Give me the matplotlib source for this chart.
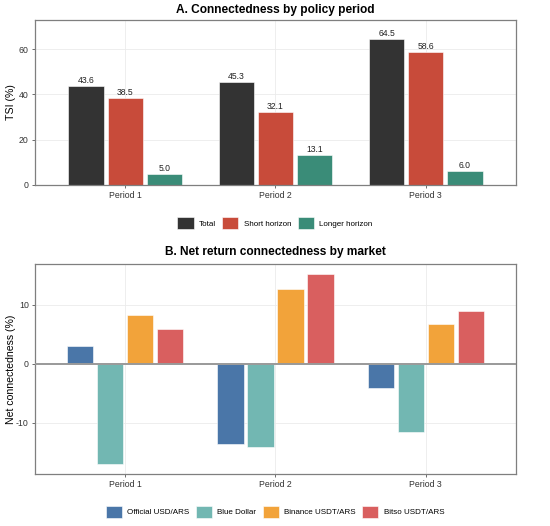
import numpy as np
import matplotlib
matplotlib.use("Agg")
import matplotlib.pyplot as plt
from matplotlib.patches import Patch

periods = ["Period 1", "Period 2", "Period 3"]

# panel A: TSI by horizon
tsi_series = ["Total", "Short horizon", "Longer horizon"]
tsi_total = [43.6, 45.3, 64.5]
tsi_short = [38.5, 32.1, 58.6]
tsi_long = [5.0, 13.1, 6.0]

# panel B: net connectedness by market
markets = ["Official USD/ARS", "Blue Dollar", "Binance USDT/ARS", "Bitso USDT/ARS"]
net_official = [3.0, -13.7, -4.1]
net_blue = [-17.0, -14.1, -11.5]
net_binance = [8.2, 12.6, 6.8]
net_bitso = [5.9, 15.2, 8.9]

colors_a = ["#333333", "#C84B3A", "#3A8C78"]
colors_b = ["#4A76A8", "#72B7B2", "#F2A33A", "#D95F5F"]

plt.rcParams["font.family"] = ["Liberation Sans", "DejaVu Sans"]
plt.rcParams["axes.unicode_minus"] = False


def style_axes(ax):
    for s in ax.spines.values():
        s.set_color("#7f7f7f")
        s.set_linewidth(0.9)
    ax.grid(True, color="#ebebeb", linewidth=0.6)
    ax.set_axisbelow(True)
    ax.tick_params(axis="both", labelsize=6.3, color="#555555", length=2.5,
                   width=0.6, labelcolor="#333333", pad=2)


def legend_below(handles, y, ncol):
    fig.legend(handles=handles, loc="center", bbox_to_anchor=(0.5, y),
               ncol=ncol, frameon=False, fontsize=5.8, handlelength=2.0,
               handleheight=2.0, columnspacing=0.75, handletextpad=0.7)


fig = plt.figure(figsize=(5.5, 5.26), dpi=100)
x = np.arange(1, 4)

# ---- Panel A ----
ax1 = fig.add_axes([0.0636, 0.6483, 0.8745, 0.3137])
step, width = 0.26, 0.235
for i, (vals, col) in enumerate(zip([tsi_total, tsi_short, tsi_long], colors_a)):
    xs = x + (i - 1) * step
    ax1.bar(xs, vals, width=width, color=col, edgecolor="white",
            linewidth=0.4, zorder=2)
    for xi, v in zip(xs, vals):
        ax1.text(xi, v + 0.5, f"{v:.1f}", ha="center", va="bottom",
                 fontsize=6.2, color="#222222")
ax1.set_xlim(0.4, 3.6)
ax1.set_ylim(0, 72.8)
ax1.set_yticks([0, 20, 40, 60])
ax1.set_xticks(x)
ax1.set_xticklabels(periods)
ax1.set_ylabel("TSI (%)", fontsize=7.6)
ax1.yaxis.set_label_coords(-0.04, 0.5)
style_axes(ax1)
fig.text(0.5, 0.981, "A. Connectedness by policy period", ha="center",
         va="center", fontsize=8.6, fontweight="bold")

handles_a = [Patch(facecolor=c, edgecolor="white", linewidth=0.4, label=l)
             for c, l in zip(colors_a, tsi_series)]
legend_below(handles_a, 0.576, 3)

# ---- Panel B ----
ax2 = fig.add_axes([0.0636, 0.0989, 0.8745, 0.3987])
step, width = 0.2, 0.175
for i, (vals, col) in enumerate(zip([net_official, net_blue, net_binance, net_bitso], colors_b)):
    xs = x + (i - 1.5) * step
    ax2.bar(xs, vals, width=width, color=col, edgecolor="white",
            linewidth=0.4, zorder=2)
ax2.axhline(0, color="#999999", linewidth=1.4, zorder=3)
ax2.set_xlim(0.4, 3.6)
ax2.set_ylim(-18.7, 16.85)
ax2.set_yticks([-10, 0, 10])
ax2.set_xticks(x)
ax2.set_xticklabels(periods)
ax2.set_ylabel("Net connectedness (%)", fontsize=7.6)
ax2.yaxis.set_label_coords(-0.04, 0.5)
style_axes(ax2)
fig.text(0.5, 0.521, "B. Net return connectedness by market", ha="center",
         va="center", fontsize=8.6, fontweight="bold")

handles_b = [Patch(facecolor=c, edgecolor="white", linewidth=0.4, label=l)
             for c, l in zip(colors_b, markets)]
legend_below(handles_b, 0.027, 4)

fig.savefig("out.png", dpi=100)
